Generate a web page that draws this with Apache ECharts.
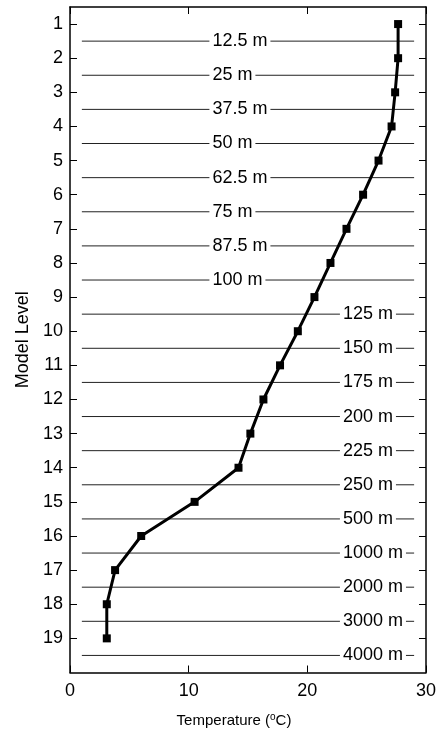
<!DOCTYPE html>
<html>
<head>
<meta charset="utf-8">
<script src="https://cdn.jsdelivr.net/npm/echarts@6/dist/echarts.min.js"></script>
<style>html,body{margin:0;padding:0;background:#fff}#c{width:439px;height:733px}</style>
</head>
<body>
<div id="c"></div>
<script>
var levels = [1,2,3,4,5,6,7,8,9,10,11,12,13,14,15,16,17,18,19];
var temperatures = [27.65,27.65,27.4,27.1,26.0,24.7,23.3,21.95,20.6,19.2,17.7,16.3,15.2,14.2,10.5,6.0,3.8,3.1,3.1];
var boundaryLevels = [1.5,2.5,3.5,4.5,5.5,6.5,7.5,8.5,9.5,10.5,11.5,12.5,13.5,14.5,15.5,16.5,17.5,18.5,19.5];
var depthLabels = ['12.5 m','25 m','37.5 m','50 m','62.5 m','75 m','87.5 m','100 m','125 m','150 m','175 m','200 m','225 m','250 m','500 m','1000 m','2000 m','3000 m','4000 m'];
var xTicks = [0,10,20,30];

var FONT = 'Liberation Sans';
var chart = echarts.init(document.getElementById('c'));

var profile = levels.map(function(l,i){ return [temperatures[i], l]; });
var labelData = boundaryLevels.map(function(b,i){ return [i < 8 ? 12 : 23, b, depthLabels[i]]; });

var series = boundaryLevels.map(function(b){
  return {type:'line', data:[[1,b],[29,b]], silent:true, z:1, symbol:'none',
    lineStyle:{color:'#222', width:1}};
});
series.push({
  type:'custom', data:labelData, silent:true, z:4, zlevel:1,
  encode:{x:0, y:1},
  renderItem:function(params, api){
    var pt = api.coord([api.value(0), api.value(1)]);
    return {
      type:'text', x:pt[0]-3, y:pt[1],
      style:{text:depthLabels[params.dataIndex], fill:'#000', font:'18px "Liberation Sans"',
        align:'left', verticalAlign:'middle', backgroundColor:'#fff', padding:[1,3,1,3]}
    };
  }
});
series.push({
  type:'line', data:profile, z:5, zlevel:2,
  lineStyle:{color:'#000', width:3},
  itemStyle:{color:'#000'},
  symbol:'rect', symbolSize:8, showSymbol:true
});

var axisLineStyle = {color:'#000', width:1.5};
chart.setOption({
  animation:false,
  grid:{left:70, right:12, top:7, bottom:60},
  xAxis:[{
    type:'value', min:0, max:30, interval:10, position:'bottom',
    name:'Temperature ({sup|o}C)', nameLocation:'middle', nameGap:40,
    nameTextStyle:{color:'#000', fontFamily:FONT, fontSize:15, padding:[0,28,0,0],
      rich:{sup:{fontSize:10, verticalAlign:'top', color:'#000', fontFamily:FONT, padding:[0,0,6,0]}}},
    axisLine:{show:true, onZero:false, lineStyle:axisLineStyle},
    axisTick:{show:true, inside:true, length:7, lineStyle:{color:'#000'}},
    axisLabel:{color:'#000', fontFamily:FONT, fontSize:18, margin:10},
    splitLine:{show:false}
  },{
    type:'value', min:0, max:30, interval:10, position:'top',
    axisLine:{show:true, onZero:false, lineStyle:axisLineStyle},
    axisTick:{show:true, inside:true, length:7, lineStyle:{color:'#000'}},
    axisLabel:{show:false}, splitLine:{show:false}
  }],
  yAxis:[{
    type:'value', inverse:true, min:0.5, max:20, position:'left',
    name:'Model Level', nameLocation:'middle', nameGap:35, nameRotate:90,
    nameTextStyle:{color:'#000', fontFamily:FONT, fontSize:18},
    axisLine:{show:true, onZero:false, lineStyle:axisLineStyle},
    axisTick:{show:true, inside:true, length:7, customValues:levels, lineStyle:{color:'#000'}},
    axisLabel:{color:'#000', fontFamily:FONT, fontSize:18, margin:7, customValues:levels},
    splitLine:{show:false}
  },{
    type:'value', inverse:true, min:0.5, max:20, position:'right',
    axisLine:{show:true, onZero:false, lineStyle:axisLineStyle},
    axisTick:{show:true, inside:true, length:7, customValues:levels, lineStyle:{color:'#000'}},
    axisLabel:{show:false, customValues:levels},
    splitLine:{show:false}
  }],
  series:series
});
</script>
</body>
</html>
